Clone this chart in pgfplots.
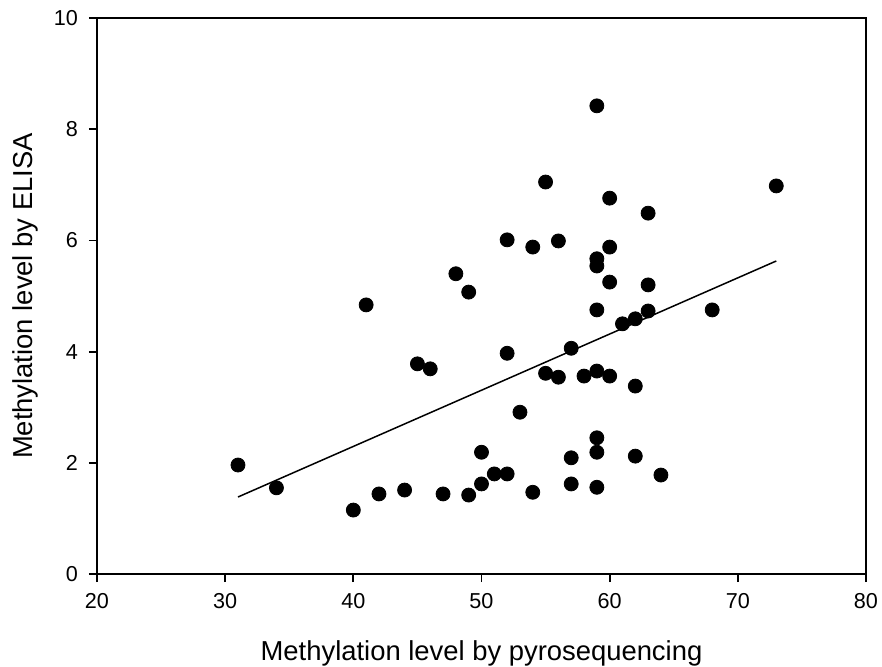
\documentclass[border=0pt]{standalone}
\usepackage{fontspec}
\setmainfont{Liberation Sans}
\usepackage{pgfplots}
\pgfplotsset{compat=1.18}
\begin{document}
\begin{tikzpicture}
\path[use as bounding box] (-48.5pt,-46pt) rectangle (392.5pt,287pt);
\begin{axis}[
  anchor=south west, at={(0,0)},
  width=384.5pt, height=278pt, scale only axis,
  xmin=20, xmax=80, ymin=0, ymax=10,
  xtick={20,30,...,80}, ytick={0,2,...,10},
  tick align=outside, major tick length=4pt,
  xtick pos=bottom, ytick pos=left,
  axis line style={line width=0.9pt},
  tick style={line width=0.9pt, black},
  /pgf/number format/assume math mode=true,
  tick label style={font=\fontsize{10.8}{12}\selectfont},
  label style={font=\fontsize{13.7}{16}\selectfont},
  xlabel={Methylation level by pyrosequencing},
  ylabel={Methylation level by ELISA},
  xlabel style={at={(axis description cs:0.5,0)}, anchor=center, yshift=-39.5pt},
  ylabel style={at={(axis description cs:0,0.5)}, anchor=center, yshift=36pt},
  xticklabel style={yshift=-2pt},
  yticklabel style={xshift=-2pt},
  clip=false,
]
\addplot[only marks, mark=*, mark size=3.5pt, black] coordinates {
(31,1.96) (34,1.55) (40,1.15) (42,1.44) (44,1.51) (41,4.84) (45,3.78) (46,3.69)
(47,1.44) (48,5.40) (49,5.07) (49,1.42) (50,2.19) (50,1.62) (51,1.80) (52,1.80)
(52,6.01) (52,3.97) (53,2.91) (54,5.88) (54,1.47) (55,7.05) (55,3.61) (56,5.99)
(56,3.54) (57,4.06) (57,2.09) (57,1.62) (58,3.56) (59,8.42) (59,5.67) (59,5.54)
(59,4.75) (59,3.65) (59,2.45) (59,2.19) (59,1.56) (60,6.76) (60,5.88) (60,5.25)
(60,3.56) (61,4.50) (62,4.59) (62,3.38) (62,2.12) (63,6.49) (63,5.20) (63,4.73)
(64,1.78) (68,4.75) (73,6.98)
};
\addplot[black, line width=0.75pt] coordinates {(31,1.385) (73,5.63)};
\end{axis}
\end{tikzpicture}
\end{document}
